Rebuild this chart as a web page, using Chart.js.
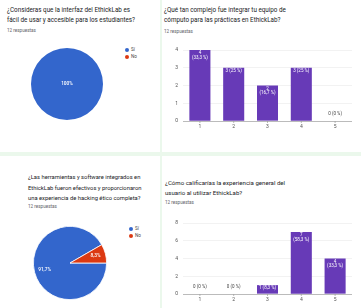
<!DOCTYPE html>
<html><head><meta charset="utf-8">
<script src="https://cdn.jsdelivr.net/npm/chart.js@4.4.1/dist/chart.umd.min.js"></script>
<style>
html,body{margin:0;padding:0;background:#fff;}
body{width:361px;height:308px;position:relative;overflow:hidden;font-family:Roboto,"Noto Sans",sans-serif;}
.t{position:absolute;color:#202124;white-space:nowrap;}
.r{position:absolute;color:#5f6368;font-size:4.6px;white-space:nowrap;}
.sep{position:absolute;background:#ebf8ec;}
canvas{position:absolute;}
.lg{position:absolute;font-size:4.6px;color:#444;white-space:nowrap;line-height:7px;}
.lg span.d{display:inline-block;width:4px;height:4px;border-radius:50%;margin-right:2px;vertical-align:-0.5px;}
</style></head>
<body>
<div class="sep" style="left:0;top:152px;width:361px;height:4px"></div>
<div class="sep" style="left:160px;top:0;width:2px;height:308px"></div>

<div class="t" id="t1" style="left:7px;top:5px;font-size:6.3px;line-height:10px"></div>
<div class="r" id="r1" style="left:7px;top:28px"></div>
<div class="t" id="t2" style="left:164px;top:5px;font-size:6.3px;line-height:10px"></div>
<div class="r" id="r2" style="left:164px;top:29px"></div>
<div class="t" id="t3" style="left:28px;top:172px;font-size:5.8px;line-height:10.5px"></div>
<div class="r" id="r3" style="left:28px;top:204px"></div>
<div class="t" id="t4" style="left:165px;top:178px;font-size:6.1px;line-height:9.5px"></div>
<div class="r" id="r4" style="left:165px;top:200px"></div>

<div class="lg" id="lg1" style="left:125px;top:46px"></div>
<div class="lg" id="lg3" style="left:129px;top:225px"></div>

<canvas id="c1" width="72" height="72" style="left:31px;top:48px;width:72px;height:72px"></canvas>
<canvas id="c2" width="192" height="92" style="left:165px;top:42px;width:192px;height:92px"></canvas>
<canvas id="c3" width="74" height="74" style="left:33px;top:226px;width:74px;height:74px"></canvas>
<canvas id="c4" width="192" height="92" style="left:165px;top:215px;width:192px;height:92px"></canvas>

<script>
// ---- data ----
const title1 = ["¿Consideras que la interfaz del EthickLab es", "fácil de usar y accesible para los estudiantes?"];
const title2 = ["¿Qué tan complejo fue integrar tu equipo de", "cómputo para las prácticas en EthickLab?"];
const title3 = ["¿Las herramientas y software integrados en", "EthickLab fueron efectivos y proporcionaron", "una experiencia de hacking ético completa?"];
const title4 = ["¿Cómo calificarías la experiencia general del", "usuario al utilizar EthickLab?"];
const responsesText = "12 respuestas";

const pieLabels = ["Sí", "No"];
const pie1Values = [12, 0];
const pie3Values = [11, 1];

const scaleCategories = ["1", "2", "3", "4", "5"];
const bar2Values = [4, 3, 2, 3, 0];
const bar4Values = [0, 0, 1, 7, 4];

const pieColors = ["#3366cc", "#dc3912"];
const barColor = "#673ab7";

// ---- text ----
document.getElementById('t1').innerHTML = title1.join('<br>');
document.getElementById('t2').innerHTML = title2.join('<br>');
document.getElementById('t3').innerHTML = title3.join('<br>');
document.getElementById('t4').innerHTML = title4.join('<br>');
['r1','r2','r3','r4'].forEach(id => document.getElementById(id).textContent = responsesText);
['lg1','lg3'].forEach(id => {
  document.getElementById(id).innerHTML = pieLabels.map((l,i) =>
    '<div><span class="d" style="background:' + pieColors[i] + '"></span>' + l + '</div>').join('');
});

const FONT = 'Roboto, "Noto Sans", sans-serif';
function fmtPct(v, total, withSpace) {
  let p = (v / total * 100).toFixed(1);
  if (p.endsWith('.0')) p = p.slice(0, -2);
  return p.replace('.', ',') + (withSpace ? ' %' : '%');
}

const pieLabelPlugin = {
  id: 'pieLabels',
  afterDatasetsDraw(chart) {
    const ctx = chart.ctx;
    const ds = chart.data.datasets[0];
    const total = ds.data.reduce((a, b) => a + b, 0);
    const meta = chart.getDatasetMeta(0);
    ctx.save();
    ctx.fillStyle = '#fff';
    ctx.font = '500 4.8px ' + FONT;
    ctx.textAlign = 'center';
    ctx.textBaseline = 'middle';
    meta.data.forEach((arc, i) => {
      const v = ds.data[i];
      if (!v) return;
      const txt = fmtPct(v, total, false);
      let x = arc.x, y = arc.y;
      if (v < total) {
        const mid = (arc.startAngle + arc.endAngle) / 2;
        const r = arc.outerRadius * 0.72;
        x += Math.cos(mid) * r;
        y += Math.sin(mid) * r;
      }
      ctx.fillText(txt, x, y);
    });
    ctx.restore();
  }
};

const barLabelPlugin = {
  id: 'barLabels',
  afterDatasetsDraw(chart) {
    const ctx = chart.ctx;
    const ds = chart.data.datasets[0];
    const total = ds.data.reduce((a, b) => a + b, 0);
    const meta = chart.getDatasetMeta(0);
    const y0 = chart.scales.y.getPixelForValue(0);
    ctx.save();
    ctx.font = '4.5px ' + FONT;
    ctx.textAlign = 'center';
    ctx.textBaseline = 'middle';
    meta.data.forEach((bar, i) => {
      const v = ds.data[i];
      const one = v + ' (' + fmtPct(v, total, true) + ')';
      if (v === 0) {
        ctx.fillStyle = '#444';
        ctx.fillText(one, bar.x, y0 - 7.5);
        return;
      }
      ctx.fillStyle = '#fff';
      if (ctx.measureText(one).width <= bar.width - 3) {
        ctx.fillText(one, bar.x, bar.y + 3);
      } else {
        ctx.fillText(String(v), bar.x, bar.y + 3);
        ctx.fillText('(' + fmtPct(v, total, true) + ')', bar.x, bar.y + 7.5);
      }
    });
    // category labels and small tick marks under the axis
    const xs = chart.scales.x;
    ctx.fillStyle = '#555';
    ctx.strokeStyle = '#9e9e9e';
    ctx.lineWidth = 0.7;
    ctx.font = '5px ' + FONT;
    ctx.textBaseline = 'middle';
    xs.ticks.forEach((t, i) => {
      const px = xs.getPixelForTick(i);
      ctx.beginPath();
      ctx.moveTo(px, y0);
      ctx.lineTo(px, y0 + 2);
      ctx.stroke();
      ctx.fillText(chart.data.labels[i], px, y0 + 6);
    });
    ctx.restore();
  }
};

function pieChart(id, values) {
  return new Chart(document.getElementById(id), {
    type: 'pie',
    data: { labels: pieLabels, datasets: [{ data: values, backgroundColor: pieColors,
      borderColor: '#ffffff', borderWidth: values.filter(v => v > 0).length > 1 ? 0.8 : 0 }] },
    options: {
      responsive: false, animation: false, rotation: 90,
      layout: { padding: 0 },
      plugins: { legend: { display: false }, tooltip: { enabled: false } }
    },
    plugins: [pieLabelPlugin]
  });
}

function barChart(id, values, maxY, step) {
  return new Chart(document.getElementById(id), {
    type: 'bar',
    data: { labels: scaleCategories, datasets: [{ data: values, backgroundColor: barColor,
      barPercentage: 0.7, categoryPercentage: 0.89 }] },
    options: {
      responsive: false, animation: false,
      layout: { padding: { top: 6, right: 5, left: 0, bottom: 0 } },
      plugins: { legend: { display: false }, tooltip: { enabled: false } },
      scales: {
        x: {
          grid: { display: false }, border: { display: false },
          ticks: { display: false },
          afterFit(s) { s.height = 13; }
        },
        y: {
          min: 0, max: maxY,
          grid: { drawTicks: false, color: ctx => ctx.tick && ctx.tick.value === 0 ? '#9e9e9e' : '#ececec', lineWidth: 0.7 },
          border: { display: false },
          ticks: { stepSize: step, font: { size: 5, family: FONT }, color: '#555', padding: 5 },
          afterFit(s) { s.width = 18; }
        }
      }
    },
    plugins: [barLabelPlugin]
  });
}

pieChart('c1', pie1Values);
barChart('c2', bar2Values, 4, 1);
pieChart('c3', pie3Values);
barChart('c4', bar4Values, 8, 2);
</script>
</body></html>
